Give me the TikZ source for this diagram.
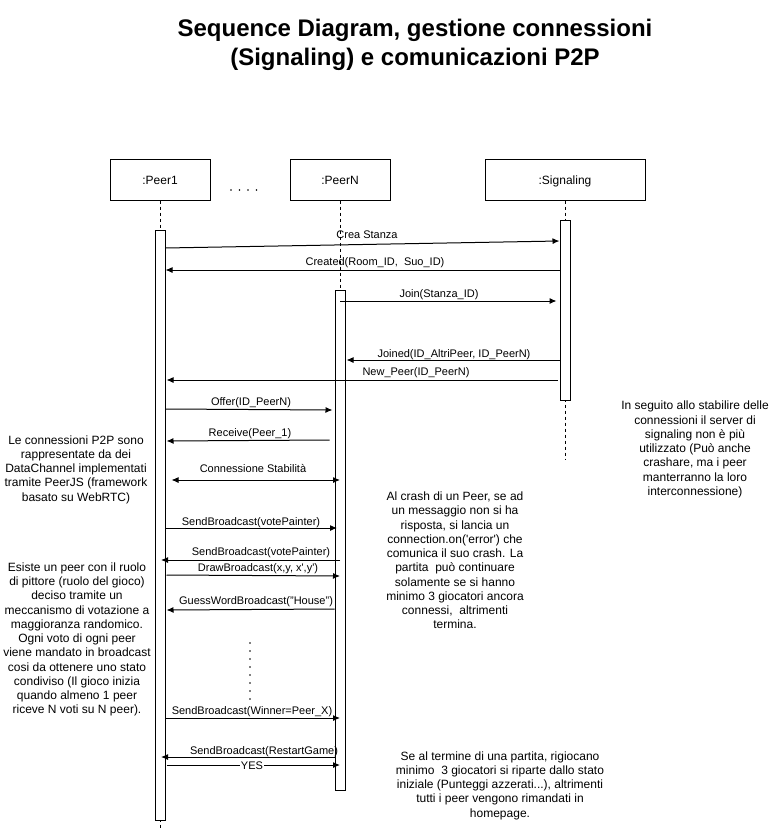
\documentclass[tikz,border=0pt]{standalone}
\usepackage{fontspec}
\setmainfont{Liberation Sans}
\usetikzlibrary{arrows.meta}
\begin{document}
\begin{tikzpicture}[x=0.75pt,y=-0.75pt,
 obj/.style={draw, line width=0.75pt, minimum width=75pt, minimum height=30pt, font=\fontsize{9}{11}\selectfont, inner sep=0pt, text height=6.45pt, text depth=0pt},
 act/.style={draw, fill=white, line width=0.75pt, minimum width=7.5pt, inner sep=0pt, anchor=north},
 life/.style={line width=0.75pt, dash pattern=on 2.25pt off 2.25pt},
 msg/.style={line width=0.75pt, -{Latex[length=5.25pt,width=4.5pt]}},
 bimsg/.style={line width=0.75pt, {Latex[length=5.25pt,width=4.5pt]}-{Latex[length=5.25pt,width=4.5pt]}},
 lbl/.style={font=\fontsize{8.25}{10}\selectfont, inner sep=0pt, anchor=base},
 note/.style={align=center, font=\fontsize{9}{10.7}\selectfont, inner sep=0pt},
 dot/.style={fill=black},
]
\useasboundingbox (0,0) rectangle (771,831);

% title
\node[font=\bfseries\fontsize{18}{21.75}\selectfont, align=center] (title) at (415,44.5)
  {Sequence Diagram, gestione connessioni\\(Signaling) e comunicazioni P2P};

% objects
\node[obj] (p1) at (160,180) {:Peer1};
\node[obj] (pn) at (340,180) {:PeerN};
\node[obj, minimum width=120pt] (sig) at (565,180) {:Signaling};
\foreach \x in {231,239.5,248,256.5} \fill[dot] (\x,190) circle (0.7pt);

% lifelines
\coordinate (p1end) at (160,828);
\coordinate (sigend) at (565,460);
\draw[life] (p1.south) -- (p1end);
\draw[life] (pn.south) -- (340,290);
\draw[life] (sig.south) -- (sigend);

% activations
\node[act, minimum height=442.5pt] (a1) at (160,230) {};
\node[act, minimum height=375pt] (an) at (340,290) {};
\node[act, minimum height=135pt] (as) at (565,220) {};

% messages
\draw[msg] (a1.east |- 0,248) -- (as.west |- 0,241)
  node[lbl] at (367,238) {Crea Stanza};
\draw[msg] (as.west |- 0,270) -- (a1.east |- 0,270)
  node[lbl] at (375,265) {Created(Room\_ID,\ \ Suo\_ID)};
\draw[msg] (an.center |- 0,301) -- ([xshift=-2.25pt]as.west |- 0,301)
  node[lbl] at (439,297) {Join(Stanza\_ID)};
\draw[msg] (as.west |- 0,360) -- ([xshift=0.75pt]an.east |- 0,360)
  node[lbl] at (454,357) {Joined(ID\_AltriPeer, ID\_PeerN)};
\draw[msg] ([xshift=-1.5pt]as.west |- 0,380) -- ([xshift=0.75pt]a1.east |- 0,380)
  node[lbl] at (416,375) {New\_Peer(ID\_PeerN)};
\draw[msg] (a1.east |- 0,409) -- ([xshift=-1.5pt]an.west |- 0,410)
  node[lbl] at (251,405) {Offer(ID\_PeerN)};
\draw[msg] ([xshift=-3.75pt]an.west |- 0,440) -- ([xshift=0.75pt]a1.east |- 0,441)
  node[lbl] at (250,436) {Receive(Peer\_1)};
\draw[bimsg] ([xshift=4.5pt]a1.east |- 0,480) -- (an.center |- 0,480)
  node[lbl] at (253,472) {Connessione Stabilità};
\draw[msg] (a1.east |- 0,528) -- ([xshift=-2.25pt]an.center |- 0,528)
  node[lbl] at (251,525) {SendBroadcast(votePainter)};
\draw[msg] (an.center |- 0,560) -- ([xshift=0.75pt]a1.center |- 0,560)
  node[lbl] at (261,555) {SendBroadcast(votePainter)};
\draw[msg] ([xshift=0.75pt]a1.east |- 0,575) -- (an.center |- 0,576)
  node[lbl] at (258,571) {DrawBroadcast(x,y, x\textquotesingle,y\textquotesingle)};
\draw[msg] (an.west |- 0,609) -- ([xshift=0.75pt]a1.east |- 0,610)
  node[lbl] at (256,604) {GuessWordBroadcast("House")};
\foreach \y in {643,651,659,667,675,683,691,699} \fill[dot] (250,\y) circle (0.7pt);
\draw[msg] (a1.east |- 0,718) -- (an.center |- 0,718)
  node[lbl] at (252,714) {SendBroadcast(Winner=Peer\_X)};
\draw[msg] (an.west |- 0,757) -- ([xshift=0.75pt]a1.center |- 0,757)
  node[lbl] at (264,754) {SendBroadcast(RestartGame)};
\draw[msg] ([xshift=0.75pt]a1.east |- 0,765) -- (an.center |- 0,765)
  node[lbl, anchor=center, fill=white, inner sep=0.5pt] at (252,765.5) {YES};

% notes
\node[note] (n1) at (76,469.5) {Le connessioni P2P sono\\rappresentate da dei\\DataChannel implementati\\tramite PeerJS (framework\\basato su WebRTC)};
\node[note] (n2) at (77,639.5) {Esiste un peer con il ruolo\\di pittore (ruolo del gioco)\\deciso tramite un\\meccanismo di votazione a\\maggioranza randomico.\\Ogni voto di ogni peer\\viene mandato in broadcast\\cosi da ottenere uno stato\\condiviso (Il gioco inizia\\quando almeno 1 peer\\riceve N voti su N peer).};
\node[note] (n3) at (455,560.5) {Al crash di un Peer, se ad\\un messaggio non si ha\\risposta, si lancia un\\connection.on(\textquotesingle error\textquotesingle) che\\comunica il suo crash. La\\partita\ \ può continuare\\solamente se si hanno\\minimo 3 giocatori ancora\\connessi,\ \ altrimenti\\termina.};
\node[note] (n4) at (695,449.5) {In seguito allo stabilire delle\\connessioni il server di\\signaling non è più\\utilizzato (Può anche\\crashare, ma i peer\\manterranno la loro\\interconnessione)};
\node[note] (n5) at (500,785.5) {Se al termine di una partita, rigiocano\\minimo\ \ 3 giocatori si riparte dallo stato\\iniziale (Punteggi azzerati...), altrimenti\\tutti i peer vengono rimandati in\\homepage.};
\end{tikzpicture}
\end{document}
